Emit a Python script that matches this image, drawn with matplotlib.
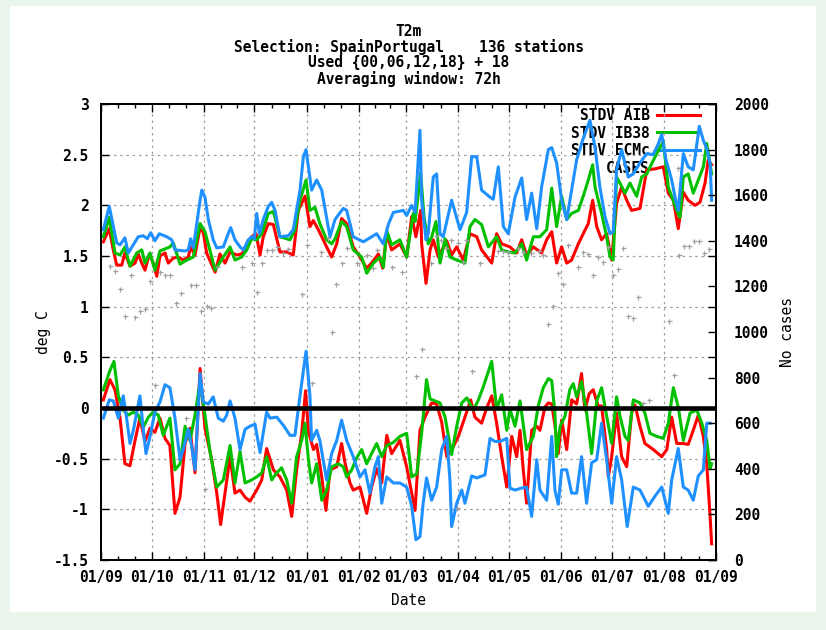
import datetime

import matplotlib
matplotlib.use('Agg')
from matplotlib import pyplot as plt
from matplotlib import dates as mdates
from matplotlib.patches import Rectangle
from matplotlib.ticker import FixedLocator, MultipleLocator, FormatStrFormatter
import numpy as np

START = datetime.date(2014, 9, 1)
END = datetime.date(2015, 9, 1)

# STDV curves (upper group), days since START
bu_day = [1.4, 4.9, 9.3, 11.3, 14.2, 16.2, 22.1, 25.1, 27.5, 29.5,
          32.0, 34.6, 39.0, 42.0, 43.9, 49.9, 51.8, 53.2, 54.8, 58.8,
          59.8, 61.7, 63.7, 66.6, 68.7, 72.6, 75.5, 77.0, 79.5, 82.5,
          84.5, 87.4, 89.4, 91.0, 92.4, 94.0, 96.3, 99.3, 101.3, 103.3,
          106.2, 111.2, 114.1, 118.1, 120.1, 121.7, 125.0, 128.0, 131.0, 135.9,
          138.9, 143.8, 145.8, 149.7, 155.7, 163.6, 167.5, 170.5, 173.5, 179.4,
          181.4, 184.4, 186.4, 189.3, 190.3, 192.9, 194.2, 197.2, 199.2, 201.2,
          203.1, 208.1, 213.1, 217.0, 220.0, 223.0, 225.9, 230.9, 232.8, 235.8,
          238.8, 241.7, 245.7, 249.7, 252.6, 255.6, 258.6, 261.5, 265.5, 267.5,
          270.4, 273.4, 276.4, 279.3, 282.3, 286.2, 290.2, 293.2, 296.1, 299.1,
          302.1, 304.0, 306.0, 309.0, 312.9, 315.9, 319.9, 323.9, 327.6, 330.6,
          332.8, 335.3, 338.7, 340.7, 342.6, 345.6, 348.5, 351.5, 355.1, 357.5,
          359.5, 361.5, 362.4]
bu_val = [1.76, 1.99, 1.63, 1.61, 1.68, 1.53, 1.69, 1.70, 1.67, 1.73,
          1.65, 1.72, 1.69, 1.66, 1.56, 1.55, 1.56, 1.67, 1.58, 2.05,
          2.15, 2.08, 1.86, 1.66, 1.58, 1.59, 1.72, 1.78, 1.66, 1.59,
          1.56, 1.66, 1.69, 1.67, 1.92, 1.72, 1.86, 1.99, 2.03, 1.95,
          1.69, 1.70, 1.76, 2.15, 2.48, 2.55, 2.15, 2.25, 2.15, 1.69,
          1.86, 1.97, 1.95, 1.69, 1.64, 1.72, 1.62, 1.81, 1.93, 1.95,
          1.90, 2.00, 1.93, 2.74, 2.05, 1.66, 1.72, 2.28, 2.31, 1.72,
          1.69, 2.05, 1.76, 1.93, 2.48, 2.48, 2.15, 2.08, 2.06, 2.38,
          1.79, 1.72, 2.08, 2.27, 1.86, 2.12, 1.77, 2.18, 2.55, 2.57,
          2.42, 2.05, 1.86, 2.15, 2.45, 2.66, 2.84, 2.57, 2.18, 1.89,
          1.72, 1.74, 2.35, 2.55, 2.28, 2.31, 2.42, 2.51, 2.50, 2.60,
          2.70, 2.45, 2.25, 2.08, 1.95, 2.51, 2.38, 2.35, 2.78, 2.64,
          2.56, 2.41, 2.05]

ru_day = [1.4, 4.9, 7.3, 9.3, 12.3, 14.2, 17.2, 20.2, 22.1, 24.2,
          26.1, 28.7, 31.0, 33.1, 35.0, 38.0, 39.9, 42.9, 45.9, 48.8,
          51.8, 53.2, 55.8, 58.8, 60.7, 62.7, 67.7, 70.6, 73.6, 76.6,
          80.5, 83.5, 86.5, 89.4, 92.0, 94.4, 96.3, 99.3, 102.3, 106.2,
          110.2, 114.1, 117.1, 121.1, 124.0, 126.0, 129.0, 133.9, 136.9, 139.9,
          142.8, 145.8, 149.7, 153.7, 157.7, 160.6, 164.6, 167.2, 169.6, 172.5,
          177.4, 181.4, 184.4, 186.9, 189.7, 190.3, 192.9, 195.3, 197.2, 200.2,
          205.2, 208.1, 211.1, 215.0, 219.0, 223.0, 225.9, 231.9, 234.8, 237.8,
          242.7, 246.7, 249.7, 252.6, 256.6, 261.5, 264.5, 267.5, 270.4, 273.4,
          276.4, 279.3, 283.3, 286.2, 289.2, 291.8, 294.2, 297.1, 300.1, 303.1,
          306.0, 309.0, 312.0, 314.9, 319.9, 323.9, 328.8, 333.7, 336.7, 339.7,
          342.6, 345.6, 348.5, 352.5, 355.5, 358.5, 360.4, 362.4]
ru_val = [1.64, 1.77, 1.56, 1.41, 1.41, 1.53, 1.40, 1.43, 1.52, 1.43,
          1.36, 1.52, 1.43, 1.30, 1.50, 1.53, 1.43, 1.48, 1.49, 1.46,
          1.49, 1.59, 1.51, 1.78, 1.73, 1.53, 1.34, 1.52, 1.43, 1.54,
          1.51, 1.52, 1.59, 1.69, 1.72, 1.51, 1.69, 1.82, 1.81, 1.54,
          1.54, 1.51, 1.95, 2.09, 1.79, 1.85, 1.76, 1.59, 1.49, 1.62,
          1.87, 1.82, 1.59, 1.49, 1.38, 1.43, 1.52, 1.38, 1.72, 1.56,
          1.62, 1.49, 1.89, 1.69, 1.95, 1.62, 1.23, 1.56, 1.66, 1.49,
          1.65, 1.51, 1.59, 1.46, 1.72, 1.69, 1.56, 1.43, 1.72, 1.62,
          1.59, 1.53, 1.66, 1.51, 1.59, 1.53, 1.66, 1.74, 1.43, 1.59,
          1.43, 1.46, 1.62, 1.72, 1.82, 2.05, 1.79, 1.66, 1.72, 1.46,
          2.02, 2.18, 2.05, 1.95, 1.97, 2.35, 2.36, 2.38, 2.12, 2.05,
          1.77, 2.13, 2.05, 2.00, 2.03, 2.22, 2.45, 2.40]

gu_day = [1.4, 4.9, 8.3, 11.3, 14.2, 17.2, 21.2, 24.2, 26.1, 29.1,
          32.0, 35.0, 40.9, 42.9, 46.9, 50.9, 54.8, 58.8, 61.7, 65.7,
          67.7, 72.6, 76.6, 79.5, 83.5, 86.5, 89.4, 92.4, 95.4, 99.3,
          102.3, 106.2, 112.2, 115.1, 118.1, 121.7, 124.0, 127.0, 129.9, 133.9,
          136.9, 138.9, 142.8, 145.8, 149.7, 154.7, 157.7, 161.7, 165.6, 167.6,
          169.6, 172.5, 177.4, 181.4, 185.3, 186.4, 189.7, 191.7, 194.2, 196.3,
          198.8, 201.2, 204.2, 207.1, 211.1, 216.0, 219.0, 221.9, 225.9, 229.9,
          234.8, 237.8, 241.7, 245.7, 249.7, 252.6, 256.6, 260.5, 264.5, 267.5,
          270.4, 273.4, 276.4, 279.3, 283.3, 286.2, 289.2, 291.8, 293.2, 297.1,
          300.1, 302.1, 304.0, 306.0, 308.0, 311.0, 313.9, 317.9, 320.9, 323.9,
          326.8, 329.8, 333.7, 336.7, 341.7, 343.6, 345.6, 348.5, 351.5, 354.5,
          357.5, 359.5, 362.4]
gu_val = [1.69, 1.88, 1.53, 1.51, 1.59, 1.40, 1.53, 1.56, 1.43, 1.53,
          1.36, 1.55, 1.59, 1.63, 1.42, 1.46, 1.49, 1.82, 1.74, 1.49,
          1.36, 1.49, 1.59, 1.46, 1.49, 1.56, 1.67, 1.66, 1.72, 1.92,
          1.94, 1.69, 1.66, 1.76, 2.05, 2.25, 1.95, 1.98, 1.82, 1.66,
          1.62, 1.67, 1.84, 1.79, 1.56, 1.49, 1.33, 1.43, 1.49, 1.39,
          1.75, 1.61, 1.66, 1.49, 1.92, 1.84, 2.32, 1.89, 1.62, 1.69,
          1.84, 1.43, 1.67, 1.49, 1.46, 1.43, 1.79, 1.86, 1.81, 1.59,
          1.69, 1.56, 1.54, 1.53, 1.62, 1.46, 1.69, 1.69, 1.76, 2.17,
          1.79, 2.09, 1.86, 1.92, 1.95, 2.09, 2.25, 2.40, 2.18, 1.92,
          1.69, 1.49, 1.46, 2.28, 2.22, 2.12, 2.22, 2.09, 2.28, 2.31,
          2.41, 2.51, 2.63, 2.18, 1.95, 1.88, 2.28, 2.31, 2.12, 2.25,
          2.38, 2.61, 2.31]

# lower group (around zero)
bl_day = [1.4, 4.9, 7.3, 10.3, 13.2, 15.2, 17.2, 19.2, 23.1, 25.1,
          26.7, 29.1, 32.0, 35.0, 38.0, 40.9, 43.9, 46.9, 48.8, 51.8,
          53.8, 55.8, 58.8, 60.7, 63.7, 66.6, 69.6, 72.6, 74.6, 76.6,
          79.5, 82.5, 85.5, 88.4, 91.4, 94.4, 98.3, 100.3, 104.3, 108.2,
          112.2, 115.1, 118.1, 121.7, 124.0, 125.0, 128.0, 129.9, 133.9, 136.9,
          139.9, 142.8, 145.8, 149.7, 153.7, 156.7, 159.6, 162.6, 164.6, 166.6,
          169.6, 173.5, 177.4, 181.4, 184.4, 186.9, 189.3, 191.2, 193.2, 196.2,
          199.2, 202.2, 205.2, 207.1, 208.1, 211.1, 214.1, 216.0, 220.0, 223.0,
          227.9, 230.9, 233.8, 236.8, 240.8, 242.7, 245.7, 249.7, 252.6, 255.6,
          258.6, 260.5, 264.5, 267.5, 269.4, 271.4, 273.4, 276.4, 279.3, 282.3,
          285.2, 288.2, 291.2, 294.2, 297.1, 300.1, 303.1, 306.0, 309.0, 312.3,
          315.9, 319.9, 324.8, 328.8, 332.8, 336.7, 338.7, 342.6, 345.6, 348.5,
          351.5, 354.5, 357.5, 359.5, 361.5]
bl_val = [-0.10, 0.08, 0.07, -0.10, 0.12, -0.10, -0.35, -0.22, 0.12, -0.21,
          -0.45, -0.28, -0.04, 0.06, 0.23, 0.20, -0.10, -0.51, -0.41, -0.21,
          -0.38, -0.61, 0.34, 0.06, 0.04, 0.11, -0.10, -0.13, -0.07, 0.07,
          -0.10, -0.41, -0.21, -0.18, -0.16, -0.44, -0.04, -0.10, -0.09, -0.17,
          -0.27, -0.27, 0.12, 0.56, 0.12, -0.32, -0.22, -0.32, -0.71, -0.45,
          -0.32, -0.12, -0.32, -0.48, -0.68, -0.61, -0.84, -0.58, -0.48, -0.94,
          -0.68, -0.74, -0.74, -0.78, -0.97, -1.30, -1.27, -0.94, -0.69, -0.91,
          -0.78, -0.41, -0.28, -0.71, -1.17, -0.94, -0.81, -0.94, -0.67, -0.69,
          -0.66, -0.30, -0.33, -0.33, -0.30, -0.79, -0.81, -0.79, -0.78, -1.07,
          -0.51, -0.81, -0.91, -0.28, -0.81, -0.95, -0.61, -0.61, -0.84, -0.84,
          -0.48, -0.94, -0.54, -0.51, -0.15, -0.51, -0.94, -0.48, -0.71, -1.17,
          -0.78, -0.81, -0.97, -0.87, -0.78, -1.04, -0.71, -0.40, -0.78, -0.81,
          -0.91, -0.67, -0.61, -0.15, -0.15]

rl_day = [1.4, 5.3, 8.3, 11.3, 14.2, 17.2, 20.2, 23.1, 26.1, 29.1,
          32.0, 35.0, 38.0, 40.9, 43.9, 46.9, 49.9, 52.8, 55.8, 58.8,
          61.7, 65.7, 68.7, 71.0, 73.6, 76.6, 79.5, 82.5, 85.5, 88.4,
          92.4, 95.4, 98.3, 102.3, 106.2, 110.2, 113.2, 116.1, 119.1, 121.4,
          123.1, 126.1, 128.0, 131.0, 133.5, 135.9, 139.9, 142.8, 144.8, 147.8,
          149.7, 153.7, 157.7, 160.6, 163.6, 166.6, 169.6, 172.5, 177.4, 181.4,
          184.4, 186.4, 189.3, 192.3, 196.2, 199.2, 202.2, 205.2, 209.1, 212.1,
          216.0, 219.4, 221.9, 225.9, 228.9, 231.9, 234.8, 237.8, 240.8, 243.8,
          246.7, 248.7, 250.6, 252.6, 255.6, 258.6, 260.5, 263.5, 265.5, 267.5,
          269.4, 271.4, 273.4, 276.4, 279.3, 282.3, 285.2, 287.2, 289.7, 292.1,
          295.1, 297.1, 300.1, 301.1, 303.1, 306.0, 309.0, 312.0, 314.9, 316.9,
          319.9, 322.8, 327.8, 332.8, 335.8, 338.7, 341.7, 345.6, 348.5, 351.5,
          354.5, 357.5, 359.5, 361.5, 362.4]
rl_val = [0.08, 0.28, 0.18, -0.10, -0.55, -0.57, -0.32, -0.10, -0.33, -0.20,
          -0.24, -0.10, -0.30, -0.37, -1.04, -0.88, -0.35, -0.20, -0.64, 0.39,
          -0.20, -0.51, -0.84, -1.15, -0.84, -0.48, -0.84, -0.81, -0.88, -0.92,
          -0.81, -0.71, -0.40, -0.61, -0.68, -0.81, -1.07, -0.61, -0.25, 0.17,
          -0.23, -0.41, -0.36, -0.68, -1.01, -0.61, -0.58, -0.35, -0.54, -0.74,
          -0.81, -0.78, -1.04, -0.78, -0.60, -0.74, -0.27, -0.45, -0.32, -0.58,
          -0.84, -1.01, -0.22, -0.09, 0.05, 0.04, -0.14, -0.48, -0.38, -0.28,
          -0.09, 0.08, -0.09, -0.15, 0.00, 0.12, -0.15, -0.48, -0.78, -0.28,
          -0.48, -0.22, -0.61, -0.94, -0.22, -0.18, -0.22, 0.01, 0.05, 0.04,
          -0.17, -0.45, -0.12, -0.41, 0.08, 0.04, 0.34, -0.02, 0.14, 0.18,
          0.02, 0.02, -0.41, -0.68, -0.48, -0.05, -0.48, -0.58, -0.05, 0.03,
          -0.18, -0.35, -0.41, -0.48, -0.41, -0.09, -0.35, -0.35, -0.36, -0.22,
          -0.07, -0.28, -0.55, -1.07, -1.34]

gl_day = [1.4, 5.3, 7.7, 10.3, 13.2, 16.2, 19.2, 22.1, 25.1, 28.1,
          31.0, 34.0, 36.9, 40.9, 43.9, 46.9, 49.9, 52.8, 55.8, 58.8,
          61.7, 64.7, 68.7, 72.6, 76.6, 79.5, 82.5, 85.5, 89.4, 92.4,
          95.4, 98.3, 101.3, 104.3, 107.2, 110.2, 113.2, 116.1, 119.1, 121.1,
          123.1, 125.0, 128.0, 131.0, 133.9, 136.9, 140.9, 143.8, 145.8, 148.8,
          151.8, 154.7, 157.7, 160.6, 163.6, 166.6, 169.6, 173.5, 177.4, 181.4,
          184.4, 187.4, 190.3, 193.2, 195.3, 198.2, 201.2, 204.2, 208.1, 211.1,
          214.1, 217.1, 221.0, 224.0, 226.9, 231.9, 234.8, 237.8, 240.8, 242.7,
          245.7, 248.7, 252.6, 256.6, 259.5, 262.5, 265.5, 267.5, 269.4, 270.4,
          272.5, 275.4, 278.2, 280.3, 282.3, 285.2, 288.2, 291.2, 294.2, 297.1,
          300.1, 303.1, 306.0, 308.0, 311.0, 312.9, 315.9, 319.9, 322.8, 325.8,
          329.8, 333.7, 336.7, 339.7, 342.6, 345.6, 349.6, 353.6, 356.6, 359.5,
          361.5, 362.4]
gl_val = [0.18, 0.37, 0.46, 0.12, -0.02, -0.07, -0.04, -0.07, -0.19, -0.09,
          -0.04, -0.07, -0.27, -0.10, -0.61, -0.55, -0.18, -0.32, -0.07, 0.26,
          -0.07, -0.43, -0.78, -0.71, -0.37, -0.74, -0.43, -0.74, -0.71, -0.68,
          -0.64, -0.48, -0.71, -0.64, -0.59, -0.71, -0.94, -0.48, -0.32, -0.15,
          -0.51, -0.74, -0.55, -0.91, -0.81, -0.58, -0.55, -0.58, -0.68, -0.61,
          -0.49, -0.41, -0.55, -0.45, -0.35, -0.48, -0.37, -0.34, -0.28, -0.25,
          -0.68, -0.65, -0.25, 0.28, 0.09, 0.07, 0.05, -0.09, -0.46, -0.18,
          0.05, 0.10, -0.02, 0.08, 0.21, 0.46, -0.01, 0.13, -0.22, -0.01,
          -0.18, 0.07, -0.41, -0.28, 0.02, 0.20, 0.29, 0.27, -0.05, -0.48,
          -0.18, -0.08, 0.18, 0.24, 0.11, 0.26, -0.05, -0.45, 0.07, 0.20,
          -0.08, -0.35, 0.11, -0.08, -0.28, -0.32, 0.08, 0.05, -0.05, -0.25,
          -0.28, -0.30, -0.15, 0.20, 0.01, -0.32, -0.05, -0.02, -0.15, -0.32,
          -0.60, -0.55]

# number of cases (right axis)
ca_day = [5.3, 8.3, 11.3, 14.2, 17.6, 20.2, 23.1, 26.1, 29.1, 32.0,
          35.0, 38.0, 40.9, 44.5, 47.3, 50.4, 53.2, 56.4, 59.3, 61.7,
          62.7, 65.1, 68.7, 83.5, 89.4, 92.4, 95.4, 98.3, 101.3, 104.3,
          108.2, 111.2, 119.1, 122.1, 125.2, 130.7, 134.7, 137.1, 139.6, 143.0,
          146.2, 152.1, 158.0, 161.4, 164.0, 172.7, 178.8, 187.1, 190.5, 196.0,
          199.0, 202.0, 204.9, 207.9, 211.1, 211.9, 214.8, 216.8, 220.2, 224.7,
          235.6, 238.6, 241.5, 247.5, 250.4, 255.4, 260.1, 262.1, 265.1, 268.1,
          271.0, 274.0, 277.0, 282.9, 285.9, 288.8, 291.8, 294.8, 297.7, 300.7,
          304.0, 307.0, 309.9, 312.9, 315.9, 318.9, 321.9, 325.1, 336.9, 339.9,
          342.9, 345.9, 348.8, 351.8, 354.8, 357.8, 360.8]
ca_val = [1289, 1269, 1187, 1070, 1250, 1064, 1093, 1099, 1225, 767,
          1265, 1249, 1249, 1129, 1172, 623, 1206, 1206, 1093, 311,
          1114, 1104, 1287, 1287, 1304, 1177, 1304, 1360, 1360, 1374,
          1345, 1363, 1167, 1382, 775, 1352, 1411, 1001, 1211, 1304,
          1367, 1301, 1338, 1279, 1360, 1284, 1265, 807, 924, 1304,
          1421, 1404, 1367, 1404, 227, 1389, 1308, 1404, 830, 1304,
          1357, 1357, 1352, 1367, 1352, 1345, 1357, 1338, 1034, 1114,
          1257, 1211, 1382, 1287, 1352, 1342, 1250, 1328, 1308, 1371,
          1250, 1275, 1367, 1071, 1060, 1155, 690, 702, 1050, 811,
          1338, 1377, 1377, 1399, 1399, 1348, 1363]

RED = '#ff0000'
GREEN = '#00c000'
BLUE = '#1e90ff'
GRAY = '#a0a0a0'


def to_dates(days):
    return mdates.date2num(START) + np.asarray(days, dtype=float)


plt.rcParams['font.family'] = 'DejaVu Sans Mono'
plt.rcParams['font.weight'] = 'bold'
plt.rcParams['font.size'] = 10.5
plt.rcParams['axes.unicode_minus'] = False

W, H = 826, 630
fig = plt.figure(figsize=(W / 100, H / 100), dpi=100)
fig.patch.set_facecolor('#eaf5ec')
fig.patches.append(Rectangle((10 / W, 18 / H), 806 / W, 606 / H, transform=fig.transFigure,
                             facecolor='white', edgecolor='none', zorder=-5))

ax = fig.add_axes([101 / W, 70 / H, 615 / W, 456 / H])
ax2 = ax.twinx()

lw = 2.2
l_aib, = ax.plot(to_dates(ru_day), ru_val, color=RED, lw=lw, label='STDV AIB', zorder=3)
l_ib38, = ax.plot(to_dates(gu_day), gu_val, color=GREEN, lw=lw, label='STDV IB38', zorder=3)
l_ecm, = ax.plot(to_dates(bu_day), bu_val, color=BLUE, lw=lw, label='STDV ECMc', zorder=3)
ax.plot(to_dates(rl_day), rl_val, color=RED, lw=lw, zorder=3)
ax.plot(to_dates(gl_day), gl_val, color=GREEN, lw=lw, zorder=3)
ax.plot(to_dates(bl_day), bl_val, color=BLUE, lw=lw, zorder=3)
ax.axhline(0, color='black', lw=3.3, zorder=4)

l_cases, = ax2.plot(to_dates(ca_day), ca_val, linestyle='none', marker='+', ms=3.6,
                    mew=0.9, color=GRAY, label='CASES')

# axes, ticks, grid
ax.set_xlim(mdates.date2num(START), mdates.date2num(END))
ax.set_ylim(-1.5, 3)
ax2.set_ylim(0, 2000)

months = [datetime.date(2014 + (8 + i) // 12, (8 + i) % 12 + 1, 1) for i in range(13)]
month_num = mdates.date2num(months)
minor = []
for a, b in zip(month_num[:-1], month_num[1:]):
    minor += [a + (b - a) / 3, a + 2 * (b - a) / 3]
ax.xaxis.set_major_locator(FixedLocator(month_num))
ax.xaxis.set_minor_locator(FixedLocator(minor))
ax.xaxis.set_major_formatter(mdates.DateFormatter('%d/%m'))
ax.yaxis.set_major_locator(MultipleLocator(0.5))
ax.yaxis.set_major_formatter(FormatStrFormatter('%g'))
ax2.yaxis.set_major_locator(MultipleLocator(200))

ax.tick_params(which='both', direction='in', top=True, right=True, width=1)
ax.tick_params(which='major', length=6)
ax.tick_params(which='minor', length=3)
ax.tick_params(axis='y', pad=9)
ax.tick_params(axis='x', pad=7)
ax2.tick_params(direction='in', length=6, width=1, pad=13)

ax.grid(True, which='major', color=GRAY, linestyle=(0, (2, 3)), linewidth=0.9)
for a in (ax, ax2):
    for s in a.spines.values():
        s.set_linewidth(1.4)

ax.set_xlabel('Date', labelpad=6)
ax.set_ylabel('deg C', labelpad=2)
ax2.set_ylabel('No cases', labelpad=8)

leg = ax.legend(handles=[l_aib, l_ib38, l_ecm, l_cases], loc='upper right',
                bbox_to_anchor=(0.974, 0.992), frameon=False, markerfirst=False,
                handlelength=2.95, handletextpad=0.5, labelspacing=0.2,
                borderpad=0, borderaxespad=0)
leg.set_zorder(1)

title_lines = ['T2m', 'Selection: SpainPortugal    136 stations',
               'Used {00,06,12,18} + 18', 'Averaging window: 72h']
for i, line in enumerate(title_lines):
    fig.text(408.5 / W, 1 - (31 + 16 * i) / H, line, ha='center', va='center')

fig.savefig('out.png', dpi=100, facecolor=fig.get_facecolor())
